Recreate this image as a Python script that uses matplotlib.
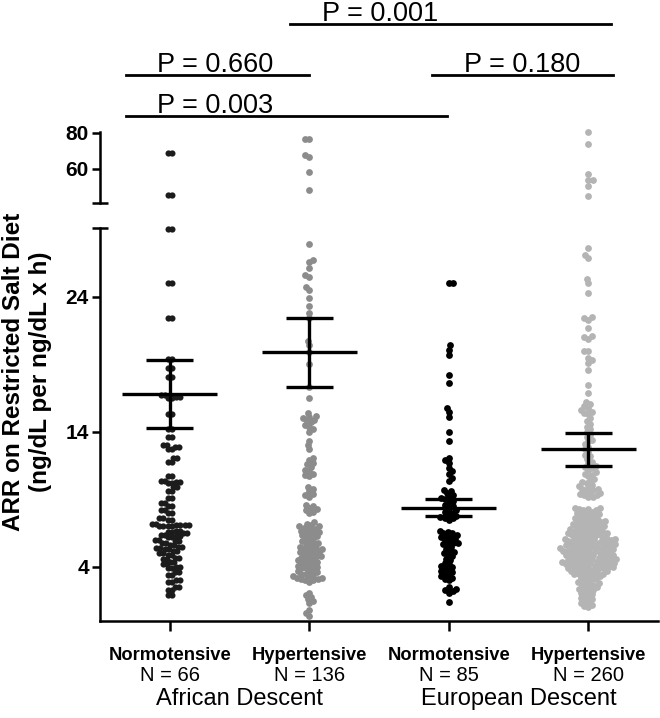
import numpy as np
import matplotlib
matplotlib.use("Agg")
import matplotlib.pyplot as plt
from matplotlib.path import Path
from matplotlib.transforms import blended_transform_factory

plt.rcParams["font.family"] = ["Liberation Sans", "DejaVu Sans"]

# ── data ─────────────────────────────────────────────────────────────────────
GROUPS = ["Normotensive", "Hypertensive", "Normotensive", "Hypertensive"]
ANCESTRY = ["African Descent", "European Descent"]

afr_norm = [68.9, 45.6, 29.0, 25.0, 22.4, 19.4, 18.7, 18.1, 16.7, 16.6, 16.5,
            15.3, 14.2, 13.6, 13.0, 12.9, 12.7, 12.1, 11.8, 10.7, 10.4, 10.3,
            10.2, 9.9, 9.6, 9.1, 8.7, 8.5, 8.2, 8.0, 7.6, 7.5, 7.2, 7.1, 7.1,
            7.0, 7.0, 6.7, 6.6, 6.5, 6.4, 6.3, 6.2, 6.0, 5.9, 5.8, 5.6, 5.5,
            5.4, 5.3, 5.2, 5.0, 4.9, 4.7, 4.6, 4.4, 4.2, 4.0, 3.9, 3.6, 3.4,
            3.0, 2.9, 2.5, 2.3, 1.9]

afr_hyp = [76.7, 76.5, 67.8, 66.7, 58.3, 48.3,
           27.9, 26.7, 26.6, 26.1, 25.6, 25.5, 24.7, 24.5, 23.9, 23.3, 22.8,
           22.4, 20.7, 20.4, 19.9, 19.0, 17.3, 16.5,
           15.4, 15.2, 15.1, 15.0, 14.9, 14.8, 14.7, 14.5, 14.4, 14.2, 14.0,
           13.3, 13.0, 12.7,
           12.1, 11.9, 11.7, 11.6, 11.4, 11.2, 11.1, 10.9, 10.8, 10.7,
           9.9, 9.8, 9.6, 9.4, 9.3, 9.2,
           8.6, 8.5, 8.4, 8.3, 8.2, 8.1, 8.0,
           7.3, 7.2, 7.1, 7.0, 7.0, 6.9, 6.8, 6.8, 6.7, 6.6, 6.6, 6.5, 6.4,
           6.4, 6.3, 6.2,
           6.1, 6.0, 5.9, 5.8, 5.8, 5.7, 5.6, 5.5, 5.4, 5.4,
           5.3, 5.3, 5.2, 5.1, 5.1, 5.0, 5.0, 4.9, 4.8, 4.8, 4.7, 4.7, 4.6,
           4.5, 4.5, 4.4, 4.3, 4.3, 4.2, 4.1, 4.1, 4.0, 3.9, 3.9, 3.8, 3.7,
           3.7, 3.6, 3.5, 3.5, 3.4, 3.3, 3.3, 3.2, 3.2, 3.1, 3.1, 3.0, 3.0,
           2.9,
           2.1, 1.9, 1.8, 1.6, 1.5, 1.3, 0.8, 0.6, 0.4]

eur_norm = [25.0, 25.0, 20.4, 20.1, 19.7, 18.2, 17.6, 15.8, 15.5, 15.1, 14.0,
            13.3, 12.1, 11.9, 11.7, 11.3, 11.1, 10.9, 10.6, 10.4,
            9.7, 9.6, 9.5, 9.3, 9.2, 9.1, 9.0, 8.9, 8.8, 8.6, 8.5, 8.4,
            8.2, 8.1, 8.0, 7.9, 7.8, 7.7, 7.6, 7.6, 7.5,
            6.7, 6.6, 6.5, 6.5, 6.4, 6.3, 6.2, 6.2, 6.1, 6.0, 5.9, 5.8, 5.8,
            5.7, 5.6, 5.5,
            5.3, 5.2, 5.1, 5.0, 4.9, 4.8, 4.6, 4.5,
            4.3, 4.2, 4.1, 4.0, 3.9, 3.8, 3.7, 3.6, 3.5, 3.4, 3.3, 3.2, 3.1,
            3.0, 2.5, 2.4, 2.3, 2.2, 2.1, 1.4]

eur_hyp = [80.5, 73.9, 57.2, 53.9, 53.9, 50.6, 45.0,
           27.6, 27.1, 26.9, 25.3, 25.0, 24.3, 22.5, 22.4, 22.3, 21.7, 21.1,
           21.0, 20.9, 20.0, 20.0, 19.5, 19.3, 19.1, 18.6, 17.5, 16.9, 16.2,
           16.1, 15.9, 15.8, 15.6, 15.5, 15.4, 15.3, 15.0, 14.8, 14.6, 14.4,
           14.2,
           14.0, 13.8, 13.6, 13.4, 13.3, 13.1, 12.9, 12.7, 12.5, 12.3, 12.2,
           12.0, 11.8, 11.7, 11.5, 11.4,
           11.3, 11.2, 11.0, 10.9, 10.8, 10.7, 10.5, 10.4, 10.3, 10.2, 10.1,
           10.0, 9.9, 9.8, 9.8, 9.7, 9.6, 9.5, 9.5, 9.4, 9.3, 9.3, 9.2, 9.2,
           8.4, 8.4, 8.3, 8.3, 8.2, 8.2, 8.1, 8.0, 8.0, 7.9, 7.9, 7.8, 7.8,
           7.7,
           7.6, 7.6, 7.5, 7.5, 7.4, 7.4, 7.4, 7.3, 7.3, 7.2, 7.2, 7.2, 7.1,
           7.1, 7.0, 7.0, 7.0, 6.9, 6.9, 6.8, 6.8, 6.8, 6.7, 6.7, 6.7, 6.6,
           6.6, 6.5, 6.5, 6.5, 6.5, 6.4, 6.4, 6.4, 6.3, 6.3, 6.2, 6.2, 6.2,
           6.1, 6.1, 6.1, 6.0, 6.0, 6.0, 6.0, 5.9, 5.9, 5.9, 5.8, 5.8, 5.8,
           5.7, 5.7, 5.7, 5.7, 5.6, 5.6, 5.6, 5.6, 5.5, 5.5, 5.5, 5.4, 5.4,
           5.4, 5.4, 5.3, 5.3, 5.3, 5.2, 5.2, 5.2, 5.2, 5.1, 5.1, 5.1, 5.1,
           5.0, 5.0, 5.0, 4.9, 4.9, 4.9, 4.9, 4.8, 4.8, 4.8, 4.8, 4.7, 4.7,
           4.7, 4.6, 4.6, 4.6, 4.6, 4.5, 4.5, 4.5, 4.5, 4.4, 4.4, 4.4, 4.4,
           4.3, 4.3, 4.3, 4.3, 4.2, 4.2, 4.2, 4.2, 4.1, 4.1, 4.1, 4.0, 4.0,
           4.0, 4.0, 3.9, 3.9, 3.9, 3.8, 3.8, 3.8, 3.7, 3.7, 3.7, 3.6, 3.6,
           3.5, 3.5, 3.5, 3.4, 3.4,
           3.3, 3.3, 3.2, 3.1, 3.1, 3.0, 2.9, 2.9, 2.8, 2.7, 2.7, 2.6, 2.5,
           2.5, 2.4, 2.3, 2.3, 2.2, 2.1, 2.0, 1.9, 1.8, 1.7, 1.6, 1.5, 1.4,
           1.3, 1.2, 1.1, 1.0]

VALUES = [afr_norm, afr_hyp, eur_norm, eur_hyp]
MEANS = [16.8, 19.9, 8.4, 12.7]
SEMS = [2.5, 2.55, 0.6, 1.2]

P_LABELS = ["P = 0.001", "P = 0.660", "P = 0.180", "P = 0.003"]

COLORS = ["#1c1c1c", "#8c8c8c", "#000000", "#b4b4b4"]

LOW_MAX = 29.1
UP_LIM = (41, 80.5)


def swarm(ypx, wx, hy):
    """simple beeswarm: x offsets (px) so that ellipses wx*hy don't overlap"""
    order = np.argsort(ypx, kind="stable")
    xs = np.zeros(len(ypx))
    placed = []
    for k, i in enumerate(order):
        y = ypx[i]
        near = [(px, py) for px, py in placed if abs(py - y) < hy]
        cands = [0.0]
        for px, py in near:
            dx = wx * np.sqrt(1 - ((py - y) / hy) ** 2)
            cands += [px - dx, px + dx]
        side = 1 if k % 2 else -1
        cands.sort(key=lambda c: (round(abs(c), 3), side * c))
        for c in cands:
            if all(((c - px) / wx) ** 2 + ((y - py) / hy) ** 2 >= 0.999 for px, py in near):
                xs[i] = c
                break
        placed.append((xs[i], y))
    return xs


fig = plt.figure(figsize=(6.6, 7.18), dpi=100)
ax = fig.add_axes([0.1515, 0.1351, 0.8455, 0.5474])
ax_up = fig.add_axes([0.1515, 0.7173, 0.8455, 0.0989], sharex=ax)
ax.set_xlim(-0.5, 3.5)
ax.set_ylim(0, LOW_MAX)
ax_up.set_ylim(*UP_LIM)

px_per_x = ax.transData.transform([[1, 0]])[0, 0] - ax.transData.transform([[0, 0]])[0, 0]

# double dot marker used for the first group
circ = Path.unit_circle()
double_dot = Path(np.concatenate([circ.vertices + [-0.6, 0], circ.vertices + [0.6, 0]]),
                  np.concatenate([circ.codes, circ.codes]))

for i, vals in enumerate(VALUES):
    v = np.asarray(vals, dtype=float)
    up = v > LOW_MAX + 1
    ypx = np.where(up,
                   ax_up.transData.transform(np.c_[np.zeros_like(v), v])[:, 1],
                   ax.transData.transform(np.c_[np.zeros_like(v), v])[:, 1])
    if i == 0:
        dx = swarm(ypx, 8.6, 5.0)
        mk, s = double_dot, 52
    else:
        dx = swarm(ypx, 4.4, 4.4)
        mk, s = "o", 24
    x = i + dx / px_per_x
    ax.scatter(x[~up], v[~up], s=s, marker=mk, color=COLORS[i], linewidths=0,
               clip_on=False, zorder=3)
    ax_up.scatter(x[up], v[up], s=s, marker=mk, color=COLORS[i], linewidths=0,
                  clip_on=False, zorder=3)

# mean ± SEM
for i, (m, e) in enumerate(zip(MEANS, SEMS)):
    ax.hlines(m, i - 0.34, i + 0.34, color="black", lw=2.4, zorder=5)
    ax.hlines([m - e, m + e], i - 0.17, i + 0.17, color="black", lw=2.4, zorder=5)
    ax.vlines(i, m - e, m + e, color="black", lw=2.4, zorder=5)

# axes styling
for a in (ax, ax_up):
    a.spines["top"].set_visible(False)
    a.spines["right"].set_visible(False)
    a.spines["left"].set_linewidth(1.8)
    a.tick_params(axis="y", length=6, width=1.8, pad=2)
ax.spines["bottom"].set_linewidth(1.8)
ax_up.spines["bottom"].set_visible(False)
ax_up.tick_params(axis="x", bottom=False, labelbottom=False)

ax.set_yticks([4, 14, 24])
ax.set_yticklabels(["4", "14", "24"], fontweight="bold", fontsize=15)
ax_up.set_yticks([60, 80])
ax_up.set_yticklabels(["60", "80"], fontweight="bold", fontsize=15)

ax.set_xticks(range(len(GROUPS)))
ax.set_xticklabels([""] * len(GROUPS))
ax.tick_params(axis="x", length=7, width=1.8)

# axis break caps
ax.plot([0], [1], marker="_", ms=12, mew=1.8, color="black",
        transform=ax.transAxes, clip_on=False)
ax_up.plot([0], [0], marker="_", ms=12, mew=1.8, color="black",
           transform=ax_up.transAxes, clip_on=False)

# category labels under the axis
tr = blended_transform_factory(ax.transData, fig.transFigure)
for i, (g, vals) in enumerate(zip(GROUPS, VALUES)):
    fig.text(i, 0.087, g, transform=tr, ha="center", va="center",
             fontsize=13.2, fontweight="bold")
    fig.text(i, 0.0585, f"N = {len(vals)}", transform=tr, ha="center",
             va="center", fontsize=14.5)
for j, name in enumerate(ANCESTRY):
    fig.text(2 * j + 0.5, 0.027, name, transform=tr, ha="center", va="center",
             fontsize=17)

fig.text(0.041, 0.482, "ARR on Restricted Salt Diet\n(ng/dL per ng/dL x h)",
         rotation=90, ha="center", va="center", fontsize=17.5,
         fontweight="bold", linespacing=1.25)

# significance lines
brackets = [(0.86, 3.16, 0.9666, 1.09),
            (-0.31, 1.00, 0.8955, -0.093),
            (1.88, 3.18, 0.8955, 2.11),
            (-0.31, 1.99, 0.8384, -0.093)]
for lab, (x0, x1, yl, xt) in zip(P_LABELS, brackets):
    fig.lines.append(plt.Line2D([x0, x1], [yl, yl], transform=tr, color="black",
                                lw=2.0))
    fig.text(xt, yl + 0.004, lab, transform=tr, ha="left", va="baseline",
             fontsize=19.5)

fig.savefig("out.png", dpi=100)
